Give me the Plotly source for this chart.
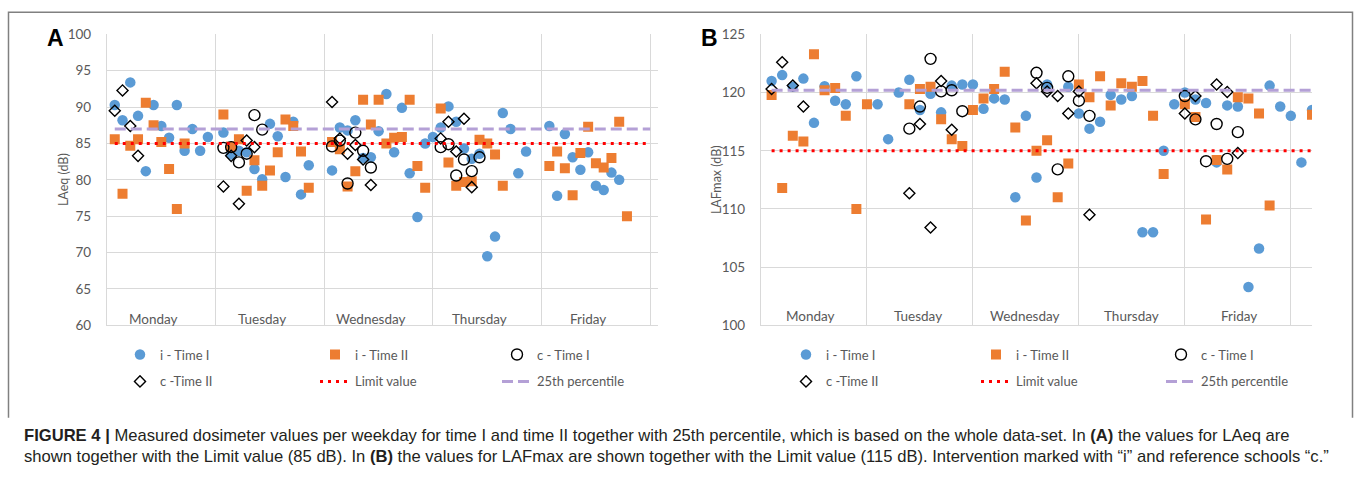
import plotly.graph_objects as go

W, H = 1356, 479

days = ["Monday", "Tuesday", "Wednesday", "Thursday", "Friday"]
a_ticks = [60, 65, 70, 75, 80, 85, 90, 95, 100]
b_ticks = [100, 105, 110, 115, 120, 125]

# ---- Panel A (LAeq) ----
a_i1_x = [1,2,3,4,5,6,7,8,9,10,11,12,13,15,16,17,18,19,20,21,22,23,24,25,26,29,30,31,32,33,34,35,36,37,38,39,40,41,42,43,44,45,46,47,48,49,50,51,52,53,54,57,58,59,60,61,62,63,64,65,66]
a_i1_y = [90.3,88.2,93.4,88.8,81.2,90.3,87.4,85.8,90.3,84.0,87.0,84.0,85.9,86.5,83.5,84.0,83.8,81.5,80.1,87.7,86.0,80.4,88.0,78.0,82.0,81.3,87.2,86.8,88.2,83.0,83.1,86.7,91.8,83.8,89.9,80.9,74.9,85.0,85.9,87.2,90.1,88.0,84.3,82.9,83.6,69.5,72.2,89.2,87.0,80.9,83.9,87.4,77.8,86.3,83.1,81.4,83.8,79.2,78.6,81.0,80.0]
a_i2_x = [1,2,3,4,5,6,7,8,9,10,15,16,17,18,19,20,21,22,23,24,25,26,29,30,31,32,33,34,35,36,37,38,39,40,41,43,44,45,46,47,48,49,50,51,57,58,59,60,61,62,63,64,65,66,67]
a_i2_y = [85.6,78.1,84.7,85.6,90.6,87.5,85.2,81.5,76.0,85.0,89.0,84.6,85.6,78.5,82.7,79.2,81.3,83.8,88.3,87.4,83.9,78.9,85.2,84.2,79.1,81.2,91.0,87.6,91.0,85.0,85.8,85.9,91.0,81.9,78.9,89.8,82.4,79.2,79.7,79.8,85.5,85.0,83.5,79.2,81.9,83.9,81.6,77.9,83.7,87.3,82.3,81.7,83.0,88.0,75.0]
a_c1_x = [15,16,17,18,19,20,29,30,31,32,33,34,43,44,45,46,47,48]
a_c1_y = [84.4,84.5,82.4,83.6,88.9,86.9,84.6,85.4,79.5,86.5,84.0,81.7,84.5,84.9,80.6,82.8,81.2,83.1]
a_c2_x = [1,2,3,4,15,16,17,18,19,29,30,31,32,33,34,43,44,45,46,47]
a_c2_y = [89.5,92.3,87.4,83.3,79.1,83.3,76.7,85.4,84.5,90.7,85.7,83.6,84.8,82.8,79.3,85.7,88.0,83.9,88.4,79.0]
a_line_x = [1, 70]
a_limit = 85
a_p25 = 87.0

# ---- Panel B (LAFmax) ----
b_i1_x = [1,2,3,4,5,6,7,8,9,11,12,13,14,15,16,17,18,19,20,21,22,23,24,25,26,27,29,30,31,32,33,34,35,36,37,38,39,40,41,42,43,44,45,46,47,48,49,50,51,52]
b_i1_y = [121.0,121.5,120.5,121.2,117.4,120.55,119.3,119.0,121.4,119.0,116.0,120.0,121.1,118.5,119.9,118.3,120.6,120.7,120.7,118.6,119.5,119.4,111.0,118.0,112.7,120.7,120.5,118.2,116.9,117.5,119.8,119.4,119.7,108.0,108.0,115.0,119.0,120.0,119.4,119.1,114.0,118.9,118.8,103.3,106.6,120.6,118.8,118.0,114.0,118.5]
b_i2_x = [1,2,3,4,5,6,7,8,9,10,14,15,16,17,18,19,20,21,22,23,24,25,26,27,28,29,30,31,32,33,34,35,36,37,38,40,41,42,43,44,45,46,47,48,52]
b_i2_y = [119.8,111.8,116.3,115.8,123.3,120.2,120.4,118.0,110.0,119.0,119.0,120.3,120.5,117.7,116.0,115.4,118.5,119.5,120.3,121.8,117.0,109.0,115.0,115.9,111.0,113.9,120.7,119.6,121.4,118.9,120.8,120.5,121.0,118.0,113.0,119.0,117.9,109.1,114.2,113.4,119.6,119.5,118.2,110.3,118.1]
b_c1_x = [14,15,16,17,18,19,26,27,28,29,30,31,40,41,42,43,44,45]
b_c1_y = [116.9,118.8,122.9,120.1,120.2,118.4,121.7,120.4,113.4,121.4,119.3,118.0,119.7,117.7,114.1,117.3,114.3,116.6]
b_c2_x = [1,2,3,4,14,15,16,17,18,26,27,28,29,30,31,40,41,43,44,45]
b_c2_y = [120.3,122.6,120.6,118.8,111.35,117.3,108.4,121.0,116.8,120.8,120.1,119.7,118.2,120.1,109.5,118.2,119.7,120.7,120.05,114.8]
b_line_x = [1, 52]
b_limit = 115
b_p25 = 120.2

series_names = ["i - Time I", "i - Time II", "c - Time I", "c -Time II", "Limit value", "25th percentile"]

BLUE = "#5B9BD5"
ORANGE = "#ED7D31"
GRID = "#D9D9D9"
TXT = "#595959"
PURPLE = "#B4A0D6"
FONT = "Lato, Open Sans, sans-serif"

fig = go.Figure()

def px2x(p):
    return p / W

def px2y(p):
    return 1 - p / H

def add_panel(ax, legs, i1x, i1y, i2x, i2y, c1x, c1y, c2x, c2y, lx, lim, p25, names):
    xa = "x" if ax == 1 else "x%d" % ax
    ya = "y" if ax == 1 else "y%d" % ax
    fig.add_trace(go.Scatter(x=i1x, y=i1y, mode="markers", name=names[0], xaxis=xa, yaxis=ya,
                             marker=dict(symbol="circle", size=10.5, color=BLUE),
                             legend=legs[0], legendgroup="%s0" % xa))
    fig.add_trace(go.Scatter(x=i2x, y=i2y, mode="markers", name=names[1], xaxis=xa, yaxis=ya,
                             marker=dict(symbol="square", size=10, color=ORANGE),
                             legend=legs[1], legendgroup="%s1" % xa))
    fig.add_trace(go.Scatter(x=c1x, y=c1y, mode="markers", name=names[2], xaxis=xa, yaxis=ya,
                             marker=dict(symbol="circle-open", size=11, color="black", line=dict(width=1.4)),
                             legend=legs[2], legendgroup="%s2" % xa))
    fig.add_trace(go.Scatter(x=c2x, y=c2y, mode="markers", name=names[3], xaxis=xa, yaxis=ya,
                             marker=dict(symbol="diamond-open", size=8.5, color="black", line=dict(width=1.4)),
                             legend=legs[0], legendgroup="%s3" % xa))
    fig.add_trace(go.Scatter(x=lx, y=[lim] * len(lx), mode="lines", name=names[4], xaxis=xa, yaxis=ya,
                             line=dict(color="#FF0000", width=3, dash="3px,5px"),
                             legend=legs[1], legendgroup="%s4" % xa))
    fig.add_trace(go.Scatter(x=lx, y=[p25] * len(lx), mode="lines", name=names[5], xaxis=xa, yaxis=ya,
                             line=dict(color=PURPLE, width=3, dash="11px,5px"),
                             legend=legs[2], legendgroup="%s5" % xa))

add_panel(1, ["legend", "legend2", "legend3"], a_i1_x, a_i1_y, a_i2_x, a_i2_y, a_c1_x, a_c1_y,
          a_c2_x, a_c2_y, a_line_x, a_limit, a_p25, series_names)
add_panel(2, ["legend4", "legend5", "legend6"], b_i1_x, b_i1_y, b_i2_x, b_i2_y, b_c1_x, b_c1_y,
          b_c2_x, b_c2_y, b_line_x, b_limit, b_p25, series_names)

ydom = [px2y(328.3), px2y(27.3)]
axis_common = dict(showgrid=True, gridcolor=GRID, gridwidth=1.3, zeroline=False,
                   showline=True, linecolor=GRID, linewidth=1.3, ticks="")

fig.update_layout(
    width=W, height=H, margin=dict(l=0, r=0, t=0, b=0),
    paper_bgcolor="white", plot_bgcolor="white",
    font=dict(family=FONT, color=TXT, size=13),
    xaxis=dict(domain=[px2x(107), px2x(658)], range=[0, 71], dtick=14, tick0=0,
               showticklabels=False, **axis_common),
    yaxis=dict(domain=ydom, range=[60, 100], tickvals=a_ticks, anchor="x",
               tickfont=dict(size=13.5, color=TXT), ticklabelstandoff=12, **axis_common),
    xaxis2=dict(domain=[px2x(761), px2x(1312)], range=[0, 52], dtick=10, tick0=0,
                showticklabels=False, anchor="y2", **axis_common),
    yaxis2=dict(domain=ydom, range=[100, 125], tickvals=b_ticks, anchor="x2",
                tickfont=dict(size=13.5, color=TXT), ticklabelstandoff=12, **axis_common),
)

leg_style = dict(orientation="v", yanchor="top", xanchor="left", bgcolor="rgba(0,0,0,0)",
                 font=dict(size=13, color=TXT, family=FONT), tracegroupgap=7, itemwidth=30)
leg_cols = [120, 315, 497, 786, 976, 1161]
for k, name in enumerate(["legend", "legend2", "legend3", "legend4", "legend5", "legend6"]):
    fig.update_layout({name: dict(x=px2x(leg_cols[k]), y=px2y(343), **leg_style)})

ann = []
for k, d in enumerate(days):
    ann.append(dict(x=6 + 14 * k, y=60, xref="x", yref="y", text=d, showarrow=False,
                    xanchor="center", yanchor="bottom", yshift=-4, font=dict(size=13.5, color=TXT)))
    ann.append(dict(x=4.7 + 10.1 * k, y=100, xref="x2", yref="y2", text=d, showarrow=False,
                    xanchor="center", yanchor="bottom", yshift=-1, font=dict(size=13.5, color=TXT)))
ann.append(dict(x=px2x(63), y=px2y(178), xref="paper", yref="paper", text="LAeq (dB)", textangle=-90,
                showarrow=False, xanchor="center", yanchor="middle", font=dict(size=12.5, color=TXT)))
ann.append(dict(x=px2x(716), y=px2y(178), xref="paper", yref="paper", text="LAFmax (dB)", textangle=-90,
                showarrow=False, xanchor="center", yanchor="middle", font=dict(size=12.5, color=TXT)))
ann.append(dict(x=px2x(55), y=px2y(31), xref="paper", yref="paper", text="<b>A</b>", showarrow=False,
                xanchor="center", yanchor="middle",
                font=dict(size=23, color="black", family="Liberation Sans, Arial")))
ann.append(dict(x=px2x(709), y=px2y(31), xref="paper", yref="paper", text="<b>B</b>", showarrow=False,
                xanchor="center", yanchor="middle",
                font=dict(size=23, color="black", family="Liberation Sans, Arial")))
cap1 = ("<b>FIGURE 4 |</b> Measured dosimeter values per weekday for time I and time II together with 25th "
        "percentile, which is based on the whole data-set. In <b>(A)</b> the values for LAeq are")
cap2 = ("shown together with the Limit value (85 dB). In <b>(B)</b> the values for LAFmax are shown together "
        "with the Limit value (115 dB). Intervention marked with \u201ci\u201d and reference schools \u201cc.\u201d")
capfont = dict(size=16.6, color="#231F20", family="Liberation Sans Narrow, Liberation Sans, Arial")
ann.append(dict(x=px2x(22), y=px2y(442), xref="paper", yref="paper", text=cap1, showarrow=False,
                xanchor="left", yanchor="middle", align="left", font=capfont))
ann.append(dict(x=px2x(22), y=px2y(464), xref="paper", yref="paper", text=cap2, showarrow=False,
                xanchor="left", yanchor="middle", align="left", font=capfont))
fig.update_layout(annotations=ann)

fig.add_shape(type="path", xref="paper", yref="paper",
              path="M %f,%f L %f,%f L %f,%f L %f,%f" % (px2x(8.5), px2y(424), px2x(8.5), px2y(4.5),
                                                      px2x(1352.5), px2y(4.5), px2x(1352.5), px2y(424)),
              line=dict(color="#808080", width=1.5))

fig.write_html("out.html")
